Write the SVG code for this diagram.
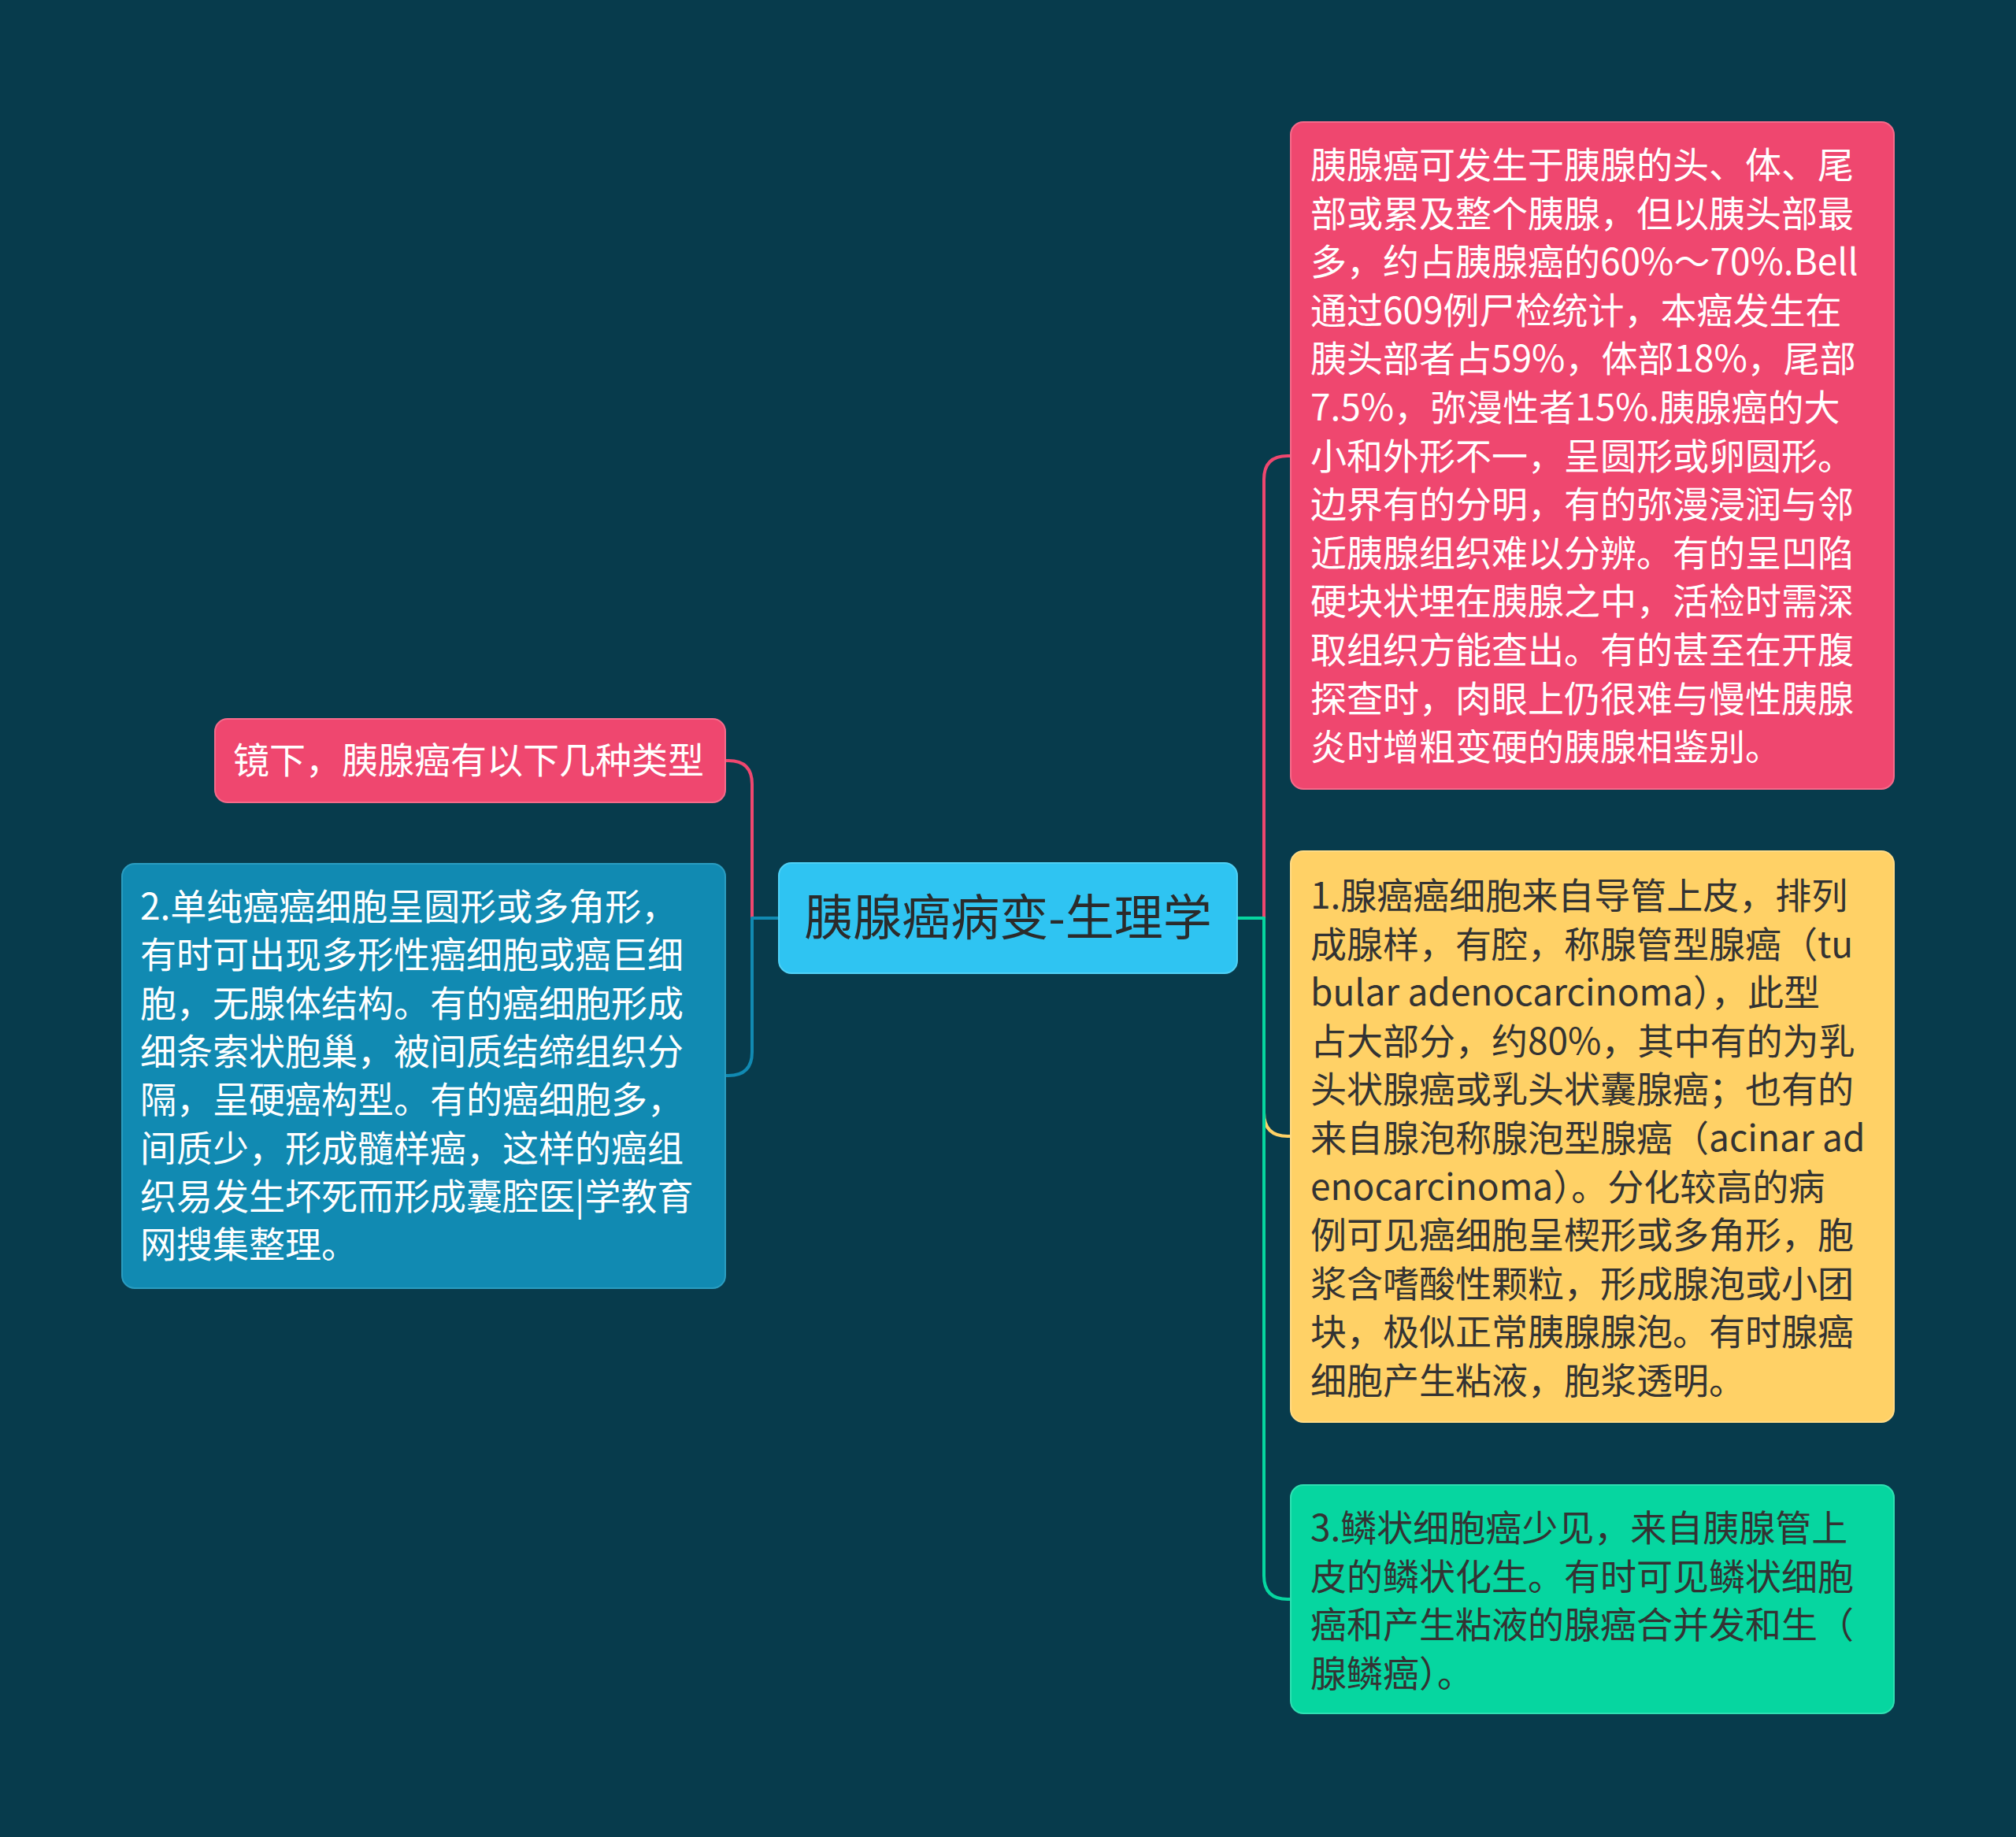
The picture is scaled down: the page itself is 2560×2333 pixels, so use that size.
<svg xmlns="http://www.w3.org/2000/svg" width="2560" height="2333" viewBox="0 0 2560 2333">
<style>
.t{font-family:"Noto Sans CJK SC","Noto Sans",sans-serif;font-size:46px}
.w{fill:#ffffff}
.d{fill:#333333}
.c{fill:none;stroke-width:4;stroke-linecap:round;stroke-linejoin:round}
</style>
<rect x="0" y="0" width="2560" height="2333" fill="#073b4c"/>
<g id="connectors">
<path class="c" stroke="#ef476f" d="M989,1166 H955 V996 Q955,966 925,966 H921"/>
<path class="c" stroke="#118ab2" d="M989,1166 H955 V1336 Q955,1366 925,1366 H921"/>
<path class="c" stroke="#ef476f" d="M1571,1166 H1605 V609 Q1605,579 1635,579 H1639"/>
<path class="c" stroke="#ffd166" d="M1571,1166 H1605 V1413 Q1605,1443 1635,1443 H1639"/>
<path class="c" stroke="#06d6a0" d="M1571,1166 H1605 V2001 Q1605,2031 1635,2031 H1639"/>
</g>
<g id="center">
<rect x="989" y="1096" width="582" height="140" rx="16" fill="#2fc4f2" stroke="#4fd0f5" stroke-width="2"/>
<text class="t" x="1280" y="1188" text-anchor="middle" style="font-size:62px" fill="#2b2b2b">胰腺癌病变-生理学</text>
</g>
<g id="left1">
<rect x="273" y="913" width="648" height="106" rx="16" fill="#ef476f" stroke="#f56a8a" stroke-width="2"/>
<text class="t w" x="296" y="982">镜下，胰腺癌有以下几种类型</text>
</g>
<g id="left2">
<rect x="155" y="1097" width="766" height="539" rx="16" fill="#118ab2" stroke="#2a9cc0" stroke-width="2"/>
<text class="t w">
<tspan x="178" y="1168">2.单纯癌癌细胞呈圆形或多角形，</tspan>
<tspan x="178" y="1229.3">有时可出现多形性癌细胞或癌巨细</tspan>
<tspan x="178" y="1290.6">胞，无腺体结构。有的癌细胞形成</tspan>
<tspan x="178" y="1351.9">细条索状胞巢，被间质结缔组织分</tspan>
<tspan x="178" y="1413.2">隔，呈硬癌构型。有的癌细胞多，</tspan>
<tspan x="178" y="1474.5">间质少，形成髓样癌，这样的癌组</tspan>
<tspan x="178" y="1535.8">织易发生坏死而形成囊腔医|学教育</tspan>
<tspan x="178" y="1597.1">网搜集整理。</tspan>
</text>
</g>
<g id="right1">
<rect x="1639" y="155" width="766" height="847" rx="16" fill="#ef476f" stroke="#f56a8a" stroke-width="2"/>
<text class="t w">
<tspan x="1664" y="226">胰腺癌可发生于胰腺的头、体、尾</tspan>
<tspan x="1664" y="287.6">部或累及整个胰腺，但以胰头部最</tspan>
<tspan x="1664" y="349.2">多，约占胰腺癌的60%～70%.Bell</tspan>
<tspan x="1664" y="410.8">通过609例尸检统计，本癌发生在</tspan>
<tspan x="1664" y="472.4">胰头部者占59%，体部18%，尾部</tspan>
<tspan x="1664" y="534">7.5%，弥漫性者15%.胰腺癌的大</tspan>
<tspan x="1664" y="595.6">小和外形不一，呈圆形或卵圆形。</tspan>
<tspan x="1664" y="657.2">边界有的分明，有的弥漫浸润与邻</tspan>
<tspan x="1664" y="718.8">近胰腺组织难以分辨。有的呈凹陷</tspan>
<tspan x="1664" y="780.4">硬块状埋在胰腺之中，活检时需深</tspan>
<tspan x="1664" y="842">取组织方能查出。有的甚至在开腹</tspan>
<tspan x="1664" y="903.6">探查时，肉眼上仍很难与慢性胰腺</tspan>
<tspan x="1664" y="965.2">炎时增粗变硬的胰腺相鉴别。</tspan>
</text>
</g>
<g id="right2">
<rect x="1639" y="1081" width="766" height="725" rx="16" fill="#ffd166" stroke="#ffdb85" stroke-width="2"/>
<text class="t d">
<tspan x="1664" y="1154">1.腺癌癌细胞来自导管上皮，排列</tspan>
<tspan x="1664" y="1215.6">成腺样，有腔，称腺管型腺癌（tu</tspan>
<tspan x="1664" y="1277.2">bular adenocarcinoma），此型</tspan>
<tspan x="1664" y="1338.8">占大部分，约80%，其中有的为乳</tspan>
<tspan x="1664" y="1400.4">头状腺癌或乳头状囊腺癌；也有的</tspan>
<tspan x="1664" y="1462">来自腺泡称腺泡型腺癌（acinar ad</tspan>
<tspan x="1664" y="1523.6">enocarcinoma）。分化较高的病</tspan>
<tspan x="1664" y="1585.2">例可见癌细胞呈楔形或多角形，胞</tspan>
<tspan x="1664" y="1646.8">浆含嗜酸性颗粒，形成腺泡或小团</tspan>
<tspan x="1664" y="1708.4">块，极似正常胰腺腺泡。有时腺癌</tspan>
<tspan x="1664" y="1770">细胞产生粘液，胞浆透明。</tspan>
</text>
</g>
<g id="right3">
<rect x="1639" y="1886" width="766" height="290" rx="16" fill="#06d6a0" stroke="#2fdfb2" stroke-width="2"/>
<text class="t d">
<tspan x="1664" y="1957">3.鳞状细胞癌少见，来自胰腺管上</tspan>
<tspan x="1664" y="2018.6">皮的鳞状化生。有时可见鳞状细胞</tspan>
<tspan x="1664" y="2080.2">癌和产生粘液的腺癌合并发和生（</tspan>
<tspan x="1664" y="2141.8">腺鳞癌）。</tspan>
</text>
</g>
</svg>
